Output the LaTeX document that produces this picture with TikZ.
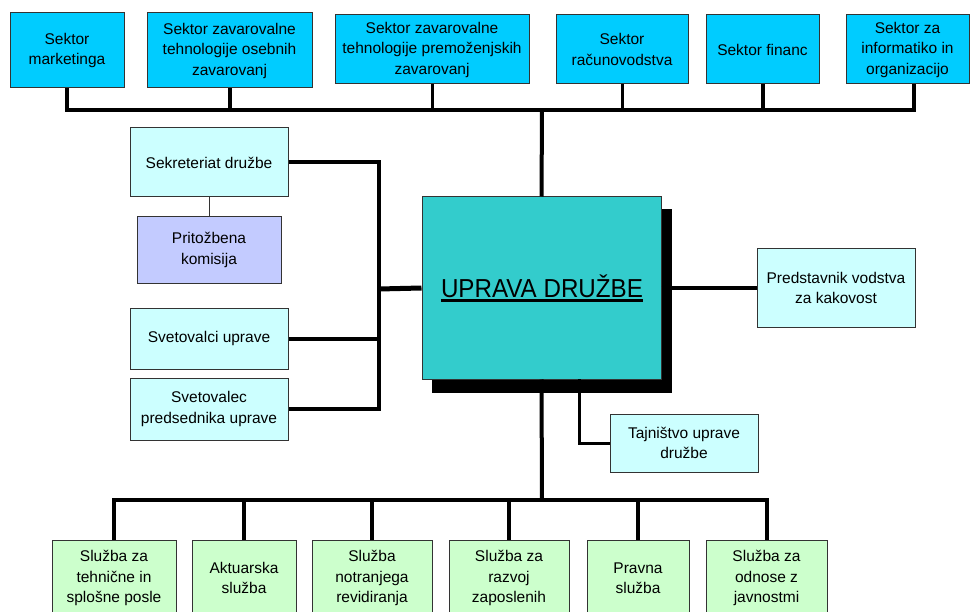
\documentclass[tikz,border=0pt]{standalone}
\usepackage{fontspec}
\setmainfont{Liberation Sans}
\usetikzlibrary{backgrounds}
\definecolor{topcyan}{HTML}{00CCFF}
\definecolor{upcol}{HTML}{33CCCC}
\definecolor{lightcyan}{HTML}{CCFFFF}
\definecolor{lavender}{HTML}{C3CBFF}
\definecolor{lightgreen}{HTML}{CCFFCC}
\begin{document}
\begin{tikzpicture}[x=1pt,y=-1pt,
  box/.style={draw=black!80, line width=1pt, inner sep=1pt, align=center,
    font=\fontsize{15.5}{20.5}\selectfont},
  topbox/.style={box, fill=topcyan},
  lcbox/.style={box, fill=lightcyan},
  grbox/.style={box, fill=lightgreen},
  conn/.style={line width=4pt, line cap=butt},
  connthin/.style={line width=3pt},
  link/.style={line width=0.8pt, draw=black!80}
]
\useasboundingbox (0,0) rectangle (971,612);
\clip (0,0) rectangle (971,612);
% top sectors
\node[topbox, minimum width=114pt, minimum height=75pt] (t1) at (67,50.5) {Sektor\\marketinga};
\node[topbox, minimum width=165pt, minimum height=75pt] (t2) at (229.5,50.5) {Sektor zavarovalne\\tehnologije osebnih\\zavarovanj};
\node[topbox, minimum width=194pt, minimum height=69pt] (t3) at (432,49.5) {Sektor zavarovalne\\tehnologije premoženjskih\\zavarovanj};
\node[topbox, minimum width=132pt, minimum height=69pt] (t4) at (622,49.5) {Sektor\\računovodstva};
\node[topbox, minimum width=113pt, minimum height=69pt] (t5) at (762.5,49.5) {Sektor financ};
\node[topbox, minimum width=123pt, minimum height=69pt] (t6) at (907.5,49.5) {Sektor za\\informatiko in\\organizacijo};
% central board
\node[draw=black!80, line width=1pt, fill=upcol, minimum width=239pt, minimum height=182pt] (up) at (541.5,288) {};
\begin{scope}[on background layer]
\fill[black] ([shift={(10,13)}]up.south west) rectangle ([shift={(10,13)}]up.north east);
\end{scope}
\node[inner sep=0pt, anchor=base, font=\fontsize{26}{30}\selectfont] (upt) at (542,297) {\scalebox{0.93}[1]{UPRAVA DRUŽBE}};
\draw[line width=3pt] ([yshift=-3.5pt]upt.base west) -- ([yshift=-3.5pt]upt.base east);
% left side
\node[lcbox, minimum width=158pt, minimum height=69pt] (sek) at (209,162.5) {Sekreteriat družbe};
\node[box, fill=lavender, minimum width=144pt, minimum height=66pt] (pri) at (209,250) {Pritožbena\\komisija};
\node[lcbox, minimum width=158pt, minimum height=61pt] (sv1) at (209,338.5) {Svetovalci uprave};
\node[lcbox, minimum width=158pt, minimum height=62pt] (sv2) at (209,409) {Svetovalec\\predsednika uprave};
% right side
\node[lcbox, minimum width=158pt, minimum height=78pt] (pre) at (836,288) {Predstavnik vodstva\\za kakovost};
\node[lcbox, minimum width=148pt, minimum height=58pt] (taj) at (684,443) {Tajništvo uprave\\družbe};
% bottom services
\node[grbox, minimum width=124pt, minimum height=76pt] (b1) at (114,578) {Služba za\\tehnične in\\splošne posle};
\node[grbox, minimum width=104pt, minimum height=76pt] (b2) at (244,578) {Aktuarska\\služba};
\node[grbox, minimum width=120pt, minimum height=76pt] (b3) at (372,578) {Služba\\notranjega\\revidiranja};
\node[grbox, minimum width=120pt, minimum height=76pt] (b4) at (509,578) {Služba za\\razvoj\\zaposlenih};
\node[grbox, minimum width=102pt, minimum height=76pt] (b5) at (638,578) {Pravna\\služba};
\node[grbox, minimum width=121pt, minimum height=76pt] (b6) at (766.5,578) {Služba za\\odnose z\\javnostmi};
% junction coordinates
\coordinate (tbus) at (542,110);
\coordinate (t6d) at (914,84);
\coordinate (lbus) at (379,289);
\coordinate (tajd) at (579,379);
\coordinate (bbus) at (542,500);
% top connectors
\draw[conn] (up.north) -- (tbus);
\draw[conn] (t1.south) -- (t1.south |- tbus) -- (t6d |- tbus) -- (t6d);
\draw[conn] (t2.south) -- (t2.south |- tbus);
\draw[connthin] (t3.south) -- (t3.south |- tbus);
\draw[connthin] (t4.south) -- (t4.south |- tbus);
\draw[conn] (t5.south) -- (t5.south |- tbus);
% left connectors
\draw[link] (sek.south) -- (pri.north);
\draw[conn] (sek.east) -- (sek.east -| lbus) -- (sv2.east -| lbus) -- (sv2.east);
\draw[conn] (sv1.east) -- (sv1.east -| lbus);
\draw[line width=5pt] (lbus) -- (up.west);
% right connectors
\draw[conn] (up.east) -- (pre.west);
\draw[connthin] (tajd) |- (taj.west);
% bottom connectors
\draw[conn] (up.south) -- (bbus);
\draw[conn] (b1.north) -- (b1.north |- bbus) -- (b6.north |- bbus) -- (b6.north);
\draw[conn] (b2.north) -- (b2.north |- bbus);
\draw[conn] (b3.north) -- (b3.north |- bbus);
\draw[conn] (b4.north) -- (b4.north |- bbus);
\draw[conn] (b5.north) -- (b5.north |- bbus);
\end{tikzpicture}
\end{document}
